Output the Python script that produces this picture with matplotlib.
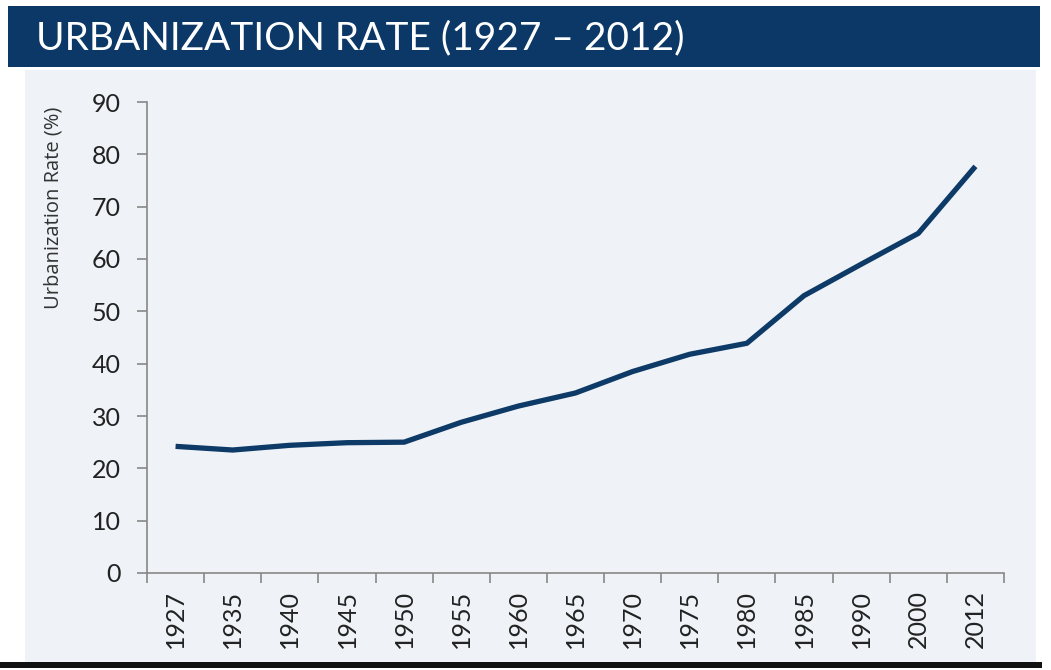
import matplotlib
matplotlib.use("Agg")
import matplotlib.pyplot as plt
from matplotlib.patches import Rectangle
import numpy as np

years = ["1927", "1935", "1940", "1945", "1950", "1955", "1960", "1965",
         "1970", "1975", "1980", "1985", "1990", "2000", "2012"]
rates = [24.2, 23.5, 24.4, 24.9, 25.0, 28.8, 31.9, 34.4,
         38.5, 41.8, 43.9, 53.0, 59.0, 64.9, 77.7]
yticks = [0, 10, 20, 30, 40, 50, 60, 70, 80, 90]
title = "URBANIZATION RATE (1927 \u2013 2012)"
ylabel = "Urbanization Rate (%)"

W, H = 1051, 670
fig = plt.figure(figsize=(W / 100, H / 100), dpi=100)
fig.patch.set_facecolor("white")

def fx(x):
    return x / W

def fy(y):
    return 1 - y / H

# chart background panel
fig.patches.append(Rectangle((fx(25), fy(662)), fx(1036 - 25), fy(70) - fy(662),
                             transform=fig.transFigure, facecolor="#eff3f7",
                             edgecolor="none", zorder=-2))
# title bar
fig.patches.append(Rectangle((fx(8), fy(67)), fx(1040 - 8), fy(6) - fy(67),
                             transform=fig.transFigure, facecolor="#0b3866",
                             edgecolor="none", zorder=-1))
fig.text(fx(36), fy(38), title, color="white", fontsize=28, family="Lato",
         va="center", ha="left")
# bottom black rule
fig.patches.append(Rectangle((fx(0), fy(668)), fx(1042), fy(662) - fy(668),
                             transform=fig.transFigure, facecolor="#111111",
                             edgecolor="none", zorder=-1))

ax = fig.add_axes([fx(147), fy(573), fx(1004 - 147), fy(102) - fy(573)],
                  zorder=3)
ax.set_facecolor("none")
x = np.arange(len(years))
ax.plot(x, rates, color="#0d3a66", lw=3.8, solid_capstyle="butt",
        solid_joinstyle="round")
ax.set_xlim(-0.5, len(years) - 0.5)
ax.set_ylim(0, 90)
ax.set_yticks(yticks)
ax.set_yticklabels([str(v) for v in yticks], fontsize=18, family="Lato",
                   color="#222222")
ax.set_xticks(x)
ax.set_xticklabels(years, rotation=90, fontsize=18, family="Lato",
                   color="#222222")
ax.set_xticks(np.arange(len(years) + 1) - 0.5, minor=True)
ax.tick_params(axis="x", which="major", length=0, pad=12)
ax.tick_params(axis="x", which="minor", length=7, width=1.2, color="#888888",
               direction="out")
ax.tick_params(axis="y", length=7, width=1.2, color="#888888", pad=12)
for s in ["top", "right"]:
    ax.spines[s].set_visible(False)
for s in ["left", "bottom"]:
    ax.spines[s].set_color("#888888")
    ax.spines[s].set_linewidth(1.2)

fig.text(fx(54), fy(208), ylabel, rotation=90, fontsize=14.5,
         family="Open Sans", color="#333333", ha="center", va="center")

fig.savefig("out.png", dpi=100)
